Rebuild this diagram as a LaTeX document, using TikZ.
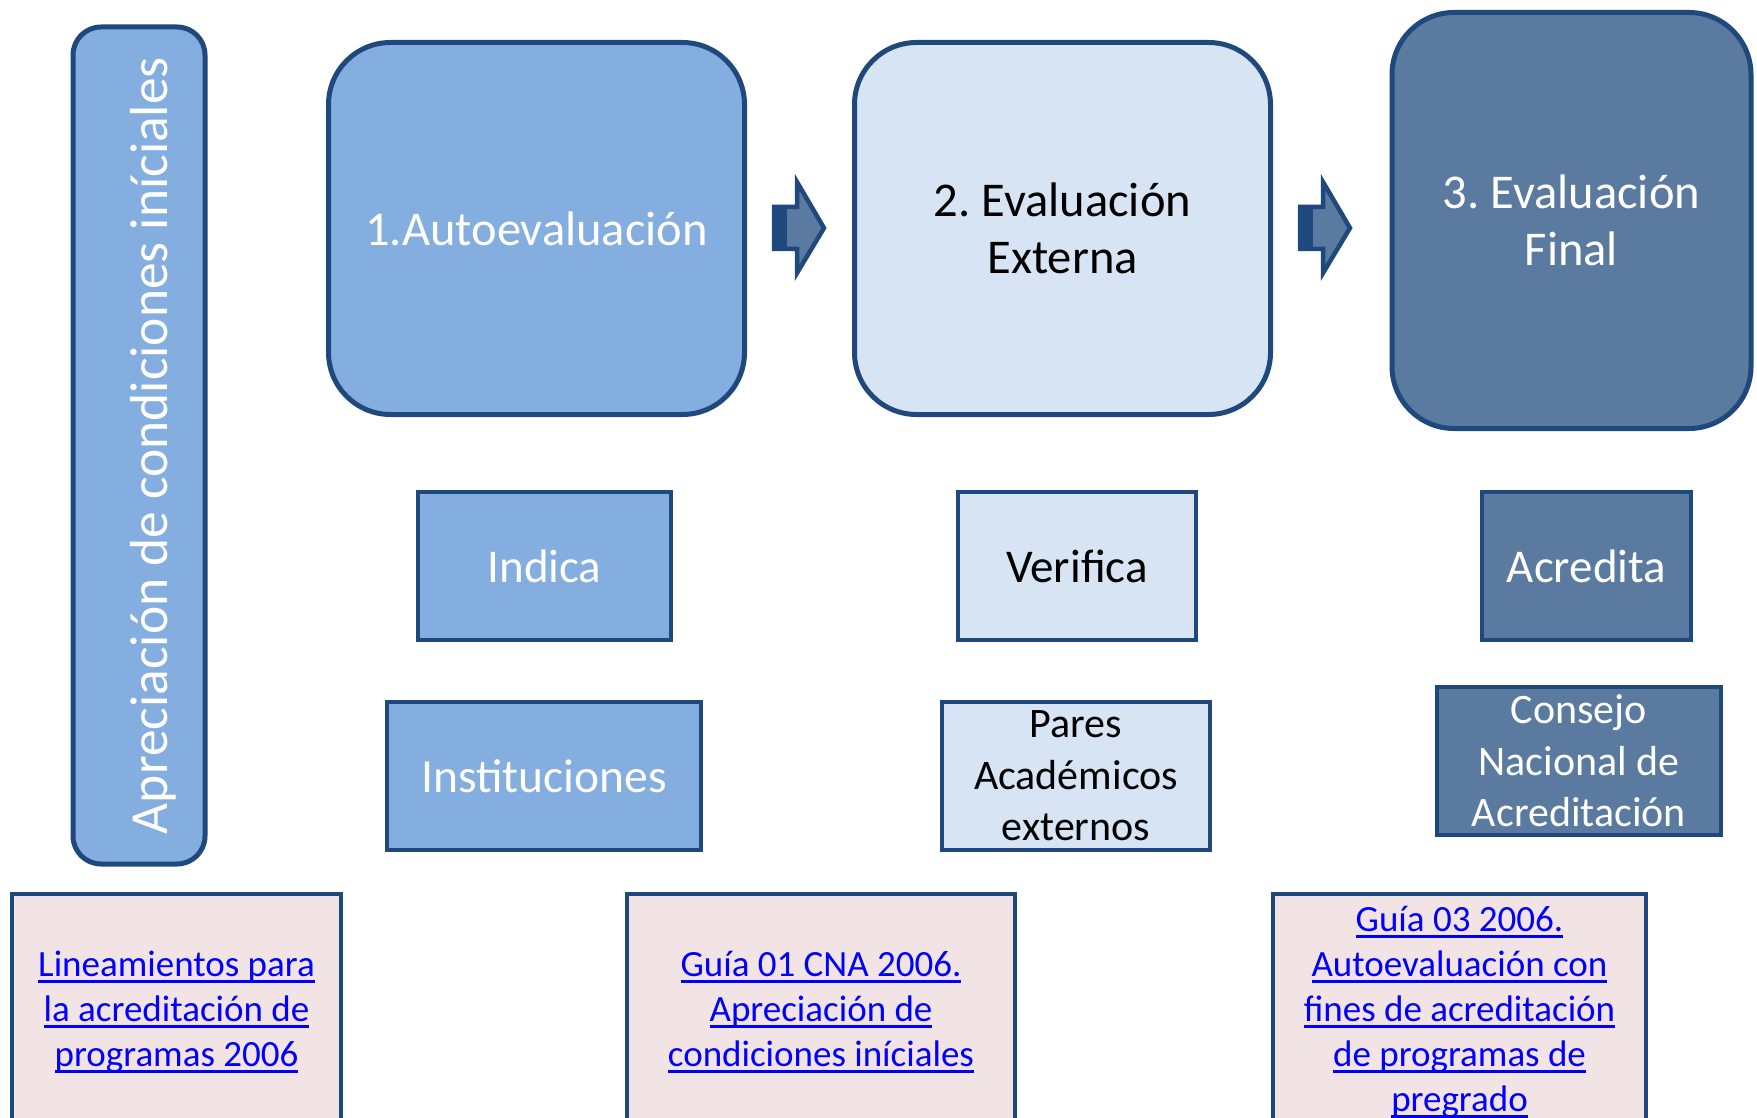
\documentclass[tikz,border=0pt]{standalone}
\usepackage{fontspec}
\setmainfont{Carlito}
\definecolor{cone}{RGB}{132,173,224}
\definecolor{ctwo}{RGB}{215,228,244}
\definecolor{cthree}{RGB}{91,122,160}
\definecolor{cborder}{RGB}{31,73,125}
\definecolor{cpink}{RGB}{242,228,228}
\definecolor{linkblue}{RGB}{0,0,255}
\newcommand\mylink[1]{\setbox0\hbox{#1}\rlap{\rule[-7pt]{\wd0}{3pt}}\box0}
\begin{document}
\frenchspacing
\begin{tikzpicture}[x=1pt,y=-1pt,
  bigbox/.style={draw=cborder,line width=5pt,rounded corners=62pt,inner sep=0pt,outer sep=0pt,
    minimum width=416pt,minimum height=372pt,align=center,font=\fontsize{48.5}{57}\selectfont},
  smallbox/.style={draw=cborder,line width=4pt,inner sep=0pt,outer sep=0pt,align=center,
    minimum height=148pt},
  refbox/.style={draw=cborder,line width=4.5pt,fill=cpink,inner sep=0pt,outer sep=0pt,align=center,
    minimum height=236pt,text=linkblue,font=\fontsize{37}{45}\selectfont},
  blockarrow/.style={draw=cborder,fill=cthree,line width=4.5pt,miter limit=10}]
\useasboundingbox (0,0) rectangle (1757,1118);
\fill[white] (0,0) rectangle (1757,1118);

% vertical box
\node[draw=cborder,fill=cone,line width=5pt,rounded corners=28pt,rotate=90,
  minimum width=837pt,minimum height=132pt,inner sep=0pt,outer sep=0pt,
  text=white,font=\fontsize{53.5}{60}\selectfont] (apre) at (139,445.5)
  {\smash{\raisebox{-28pt}{Apreciación de condiciones iníciales}}};

% top boxes
\node[bigbox,fill=cone,text=white] (auto) at (536.5,228.5) {1.Autoevaluación};
\node[bigbox,fill=ctwo,text=black] (ext) at (1062.5,228.5) {2. Evaluación\\Externa};
\node[bigbox,fill=cthree,text=white,minimum width=359pt,minimum height=416pt] (fin) at (1571.5,220.5) {3. Evaluación\\Final};

% block arrows
\draw[blockarrow] (774,207) -- (797,207) -- (797,182) -- (824,228) -- (797,273) -- (797,249) -- (774,249) -- cycle;
\fill[cborder] (774,205) rectangle (787,251);
\draw[blockarrow] (1300,207) -- (1323,207) -- (1323,182) -- (1350,228) -- (1323,273) -- (1323,249) -- (1300,249) -- cycle;
\fill[cborder] (1300,205) rectangle (1313,251);

% middle boxes
\node[smallbox,fill=cone,text=white,minimum width=253pt,font=\fontsize{47}{56}\selectfont] (indica) at (544.5,566) {Indica};
\node[smallbox,fill=ctwo,text=black,minimum width=238pt,font=\fontsize{47}{56}\selectfont] (verif) at (1077,566) {Verifica};
\node[smallbox,fill=cthree,text=white,minimum width=209pt,font=\fontsize{47}{56}\selectfont] (acred) at (1586.5,566) {Acredita};

\node[smallbox,fill=cone,text=white,minimum width=314pt,font=\fontsize{47.5}{56}\selectfont] (inst) at (544,776) {Instituciones};
\node[smallbox,fill=ctwo,text=black,minimum width=268pt,font=\fontsize{42}{51.5}\selectfont] (pares) at (1076,776) {Pares\\Académicos\\externos};
\node[smallbox,fill=cthree,text=white,minimum width=284pt,font=\fontsize{42}{51.5}\selectfont] (cons) at (1579,761) {Consejo\\Nacional de\\Acreditación};

% reference boxes
\node[refbox,minimum width=329pt] (ref1) at (176.5,1012) {\mylink{Lineamientos para}\\\mylink{la acreditación de}\\\mylink{programas 2006}};
\node[refbox,minimum width=388pt] (ref2) at (821,1012) {\mylink{Guía 01 CNA 2006.}\\\mylink{Apreciación de}\\\mylink{condiciones iníciales}};
\node[refbox,minimum width=373pt] (ref3) at (1459.5,1012) {\mylink{Guía 03 2006.}\\\mylink{Autoevaluación con}\\\mylink{fines de acreditación}\\\mylink{de programas de}\\\mylink{pregrado}};
\end{tikzpicture}
\end{document}
